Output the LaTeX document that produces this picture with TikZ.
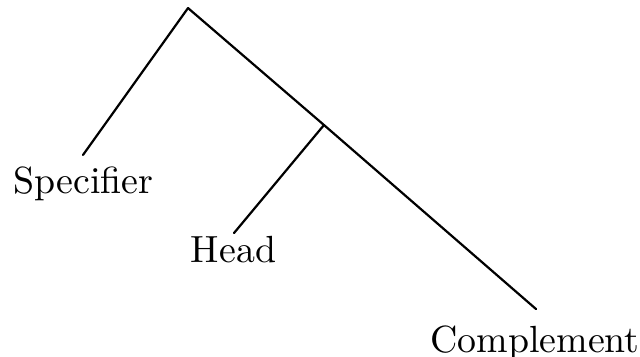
\documentclass[tikz,border=0pt]{standalone}
\usepackage{tikz}
\usetikzlibrary{positioning}

\begin{document}
\begin{tikzpicture}[
    branch/.style={draw, semithick, line cap=round},
    leaf/.style={anchor=base, inner sep=0pt, font=\fontsize{10.3}{13}\selectfont}
  ]
  \useasboundingbox (0,0) rectangle (6.124,-3.407);

  % Tree vertices
  \coordinate (root) at (1.799,-0.077);
  \coordinate (bar) at (3.100,-1.196);
  \coordinate (spectip) at (0.794,-1.483);
  \coordinate (headtip) at (2.239,-2.230);
  \coordinate (comptip) at (5.129,-2.957);

  % Labels
  \node[leaf] (spec) at (0.799,-1.847) {Specifier};
  \node[leaf] (head) at (2.234,-2.507) {Head};
  \node[leaf] (comp) at (5.120,-3.368) {Complement};

  % Branches
  \draw[branch] (root) -- (spectip);
  \draw[branch] (root) -- (bar);
  \draw[branch] (bar) -- (headtip);
  \draw[branch] (bar) -- (comptip);
\end{tikzpicture}
\end{document}
